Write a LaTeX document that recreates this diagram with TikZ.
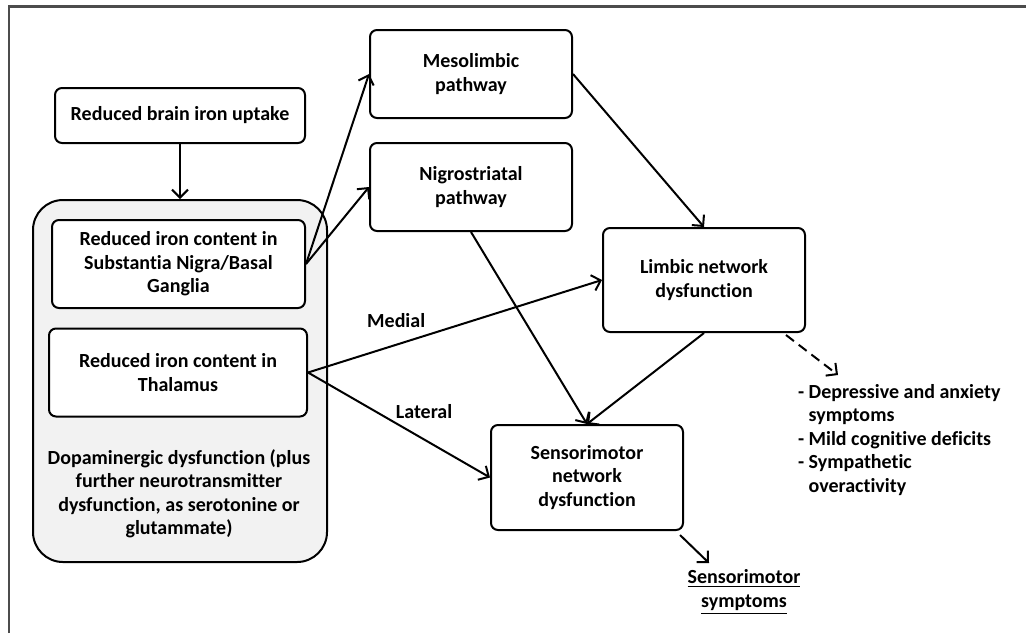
\documentclass[tikz,border=0pt]{standalone}
\usepackage{fontspec}
\setmainfont{Carlito}[Ligatures=NoCommon]
\usepackage{tikz}
\usetikzlibrary{arrows.meta}

\tikzset{
	box/.style={draw, rounded corners=3.5pt, align=center, fill=white, minimum width=101pt, minimum height=44pt},
	lbl/.style={align=center, inner sep=1pt}
}

\begin{document}
\begin{tikzpicture}[x=0.5pt, y=-0.5pt, line width=1pt, >={Straight Barb[length=4pt, width=8pt]},
		font=\fontsize{10}{11.75}\selectfont\bfseries]
				\useasboundingbox (0,0) rectangle (1026,633);
				\draw[gray!60!black, line width=1.1pt] (9,633) -- (9,6.5) -- (1026,6.5);
				
				\path (180, 381) node[draw, fill=gray!10, rounded corners=15pt, minimum width=147pt, minimum height=181pt] (dopa){}
				(180, 115.5) node[box, minimum width=125pt, minimum height=27.5pt] (uptake){Reduced brain iron uptake}
				(178.5, 264) node[box, minimum width=126.5pt] (sn){Reduced iron content in\\Substantia Nigra/Basal\\Ganglia}
				(178, 372.5) node[box, minimum width=129pt] (thal){Reduced iron content in\\Thalamus}
				(179, 494) node[lbl] (dopatext){Dopaminergic dysfunction (plus\\further neurotransmitter\\dysfunction, as serotonine or\\glutammate)}
				(471, 74) node[box] (meso){Mesolimbic\\pathway}
				(471, 187) node[box] (nigro){Nigrostriatal\\pathway}
				(704, 280) node[box, minimum height=52pt] (limbic){Limbic network\\dysfunction}
				(587, 477.5) node[box, minimum width=96pt, minimum height=52.5pt] (senso){Sensorimotor\\network\\dysfunction}
				(795, 440) node[lbl, anchor=west, align=left] (effects){- Depressive and anxiety\\\phantom{- }symptoms\\- Mild cognitive deficits\\- Sympathetic\\\phantom{- }overactivity}
				(744, 592) node[lbl] (symptoms){\underline{Sensorimotor}\\\underline{symptoms}};
				
				\coordinate (dashend) at (838, 375);
				\coordinate (symend) at (709, 563);
				
				\draw[->] (uptake) -- (dopa);
				\draw[->] (sn.east) -- (meso.west);
				\draw[->] (sn.east) -- (nigro.west);
				\draw[->] (meso.east) -- (limbic.north);
				\draw[->] (nigro.south) -- (senso.north);
				\draw[->] (limbic.south) -- (senso.north);
				\draw[->] (thal.east) -- node[pos=0.3, anchor=south, lbl, yshift=7pt] {Medial} (limbic.west);
				\draw[->] (thal.east) -- node[pos=0.62, anchor=south west, lbl, yshift=8pt, xshift=-14pt] {Lateral} (senso.west);
				\draw[->, dash pattern=on 5pt off 3pt] ([xshift=-10pt, yshift=-1pt]limbic.south east) -- (dashend);
				\draw[->] ([xshift=-2pt, yshift=-2pt]senso.south east) -- (symend);
			\end{tikzpicture}
\end{document}
